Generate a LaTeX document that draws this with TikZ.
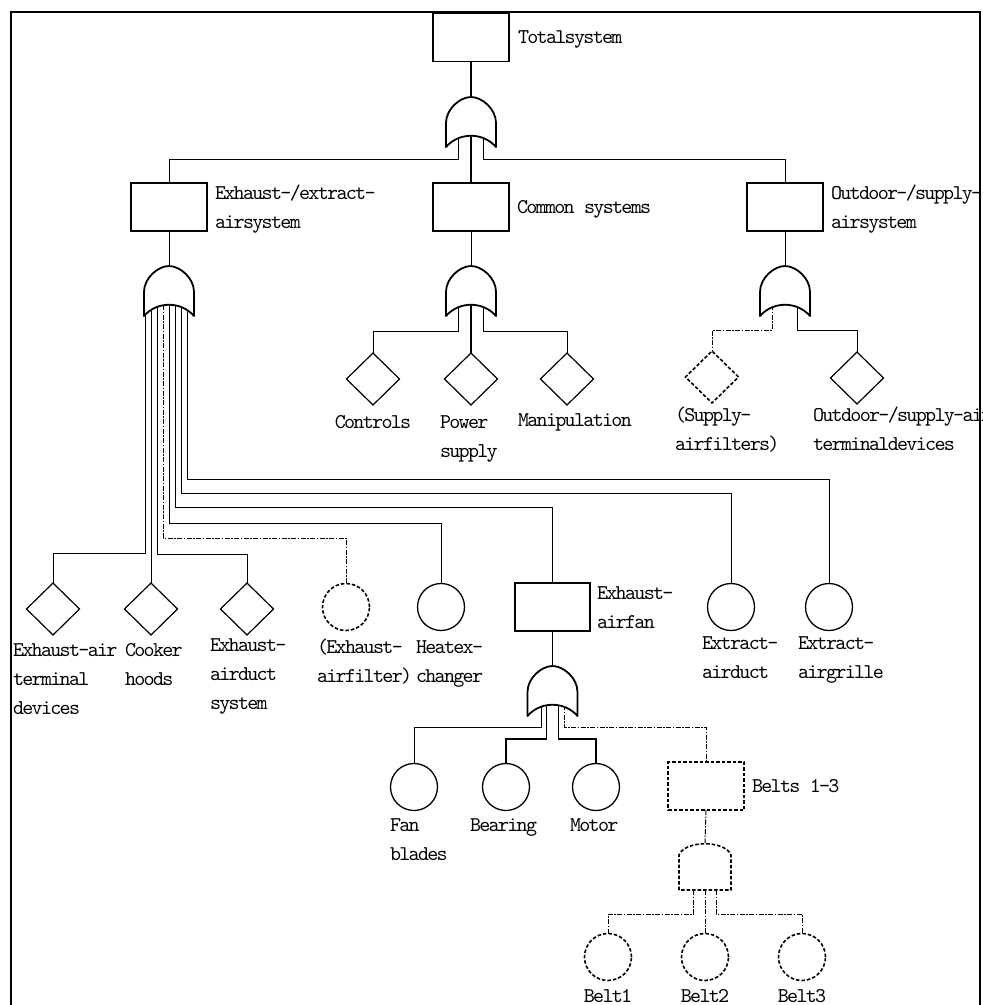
\documentclass[tikz,border=0pt]{standalone}
\usepackage{fontspec}
\newfontfamily\labfont[LetterSpace=-8]{lmmono10-regular.otf}
\usetikzlibrary{shapes.geometric,backgrounds}
% stacked label lines; the baseline is that of the first line
\newcommand\stk[1]{\vtop{\baselineskip=29pt\lineskiplimit=-100pt\halign{##\hfil\cr#1\crcr}}}

\begin{document}
\begin{tikzpicture}[x=1pt,y=-1pt,
  every node/.style={inner sep=0pt,outer sep=0pt},
  dashshape/.style={dash pattern=on 3.5pt off 2pt,line width=1.6pt},
  box/.style={draw,line width=1.3pt,minimum width=76pt,minimum height=48pt},
  dbox/.style={box,dashshape},
  dia/.style={draw,shape=diamond,line width=1.2pt,minimum width=53pt,minimum height=52pt},
  ddia/.style={dia,dashshape},
  basic/.style={draw,circle,line width=1.3pt,minimum size=47pt},
  dbasic/.style={basic,dashshape},
  conn/.style={line width=1pt},
  dconn/.style={line width=1pt,dash pattern=on 5pt off 1.5pt on 1.5pt off 1.5pt},
  gateline/.style={line width=1.8pt,fill=white,line join=round},
  lab/.style={font=\labfont\fontsize{21pt}{29pt}\selectfont,anchor=base west},
  orgate/.pic={
    \draw[gateline] (0,0) .. controls (-11,0) and (-25,12) .. (-25,26) -- (-25,50)
      .. controls (-12,35) and (12,35) .. (25,50) -- (25,26)
      .. controls (25,12) and (11,0) .. cycle;
    \coordinate (-apex) at (0,0);
    \coordinate (-base) at (0,39);
  },
  andgate/.pic={
    \draw[gateline,dashshape] (-26,47) -- (-26,12) .. controls (-20,-3) and (20,-3) .. (26,12)
      -- (26,47) -- cycle;
    \coordinate (-apex) at (0,0);
    \coordinate (-base) at (0,47);
  }
]
\useasboundingbox (0,0) rectangle (983,1005);

% frame
\draw[line width=2pt] (11,1008) -- (11,12) -- (980,12) -- (980,1008);

% top level
\node[box] (total) at (471,37.5) {};
\node[lab] (ltotal) at (518,43) {Totalsystem};
\pic (g0) at (471,97) {orgate};

% subsystems
\node[box] (exh) at (169,207) {};
\node[lab] (lexh) at (215,199.5) {\stk{Exhaust-/extract-\cr airsystem}};
\node[box] (com) at (471,207) {};
\node[lab] (lcom) at (517,213.5) {Common systems};
\node[box] (out) at (785,207) {};
\node[lab] (lout) at (831,199.5) {\stk{Outdoor-/supply-\cr airsystem}};

\pic (g1) at (169,266) {orgate};
\pic (g2) at (471,266) {orgate};
\pic (g3) at (785,266) {orgate};

% common systems
\node[dia] (ctrl) at (373,379) {};
\node[lab,anchor=base] (lctrl) at (373,428) {Controls};
\node[dia] (pow) at (471,379) {};
\node[lab] (lpow) at (440,428) {\stk{Power\cr supply}};
\node[dia] (man) at (567,379) {};
\node[lab] (lman) at (518,426) {Manipulation};

% outdoor/supply-air system
\node[ddia] (sfilt) at (712,377) {};
\node[lab] (lsfilt) at (675,421) {\stk{(Supply-\cr airfilters)}};
\node[dia] (otd) at (857,378) {};
\node[lab] (lotd) at (813,421) {\stk{Outdoor-/supply-air\cr terminaldevices}};

% exhaust/extract-air system
\node[dia] (eat) at (53,609) {};
\node[lab] (leat) at (13,656) {\stk{Exhaust-air\cr terminal\cr devices}};
\node[dia] (hood) at (151,609) {};
\node[lab] (lhood) at (125,656) {\stk{Cooker\cr hoods}};
\node[dia] (duct) at (247,609) {};
\node[lab] (lduct) at (210,651) {\stk{Exhaust-\cr airduct\cr system}};
\node[dbasic] (filt) at (346,607) {};
\node[lab] (lfilt) at (317,653) {\stk{(Exhaust-\cr airfilter)}};
\node[basic] (hex) at (441,607) {};
\node[lab] (lhex) at (416,653) {\stk{Heatex-\cr changer}};
\node[box,minimum width=75pt] (fanbox) at (552.5,607) {};
\node[lab] (lfanbox) at (597,599) {\stk{Exhaust-\cr airfan}};
\node[basic] (xduct) at (731,607) {};
\node[lab] (lxduct) at (702,649) {\stk{Extract-\cr airduct}};
\node[basic] (grille) at (829,607) {};
\node[lab] (lgrille) at (798,649) {\stk{Extract-\cr airgrille}};

% exhaust-air fan
\pic (g4) at (552.5,666) {orgate};
\node[basic] (fanbl) at (414,787) {};
\node[lab] (lfanbl) at (390,831) {\stk{Fan\cr blades}};
\node[basic] (bear) at (506,787) {};
\node[lab] (lbear) at (470,831) {Bearing};
\node[basic] (motor) at (596,787) {};
\node[lab] (lmotor) at (570,831) {Motor};
\node[dbox] (belts) at (706,786) {};
\node[lab] (lbelts) at (752,792) {Belts 1-3};

% belts
\pic (g5) at (705,843) {andgate};
\node[dbasic] (belt1) at (608,957) {};
\node[lab,anchor=base] (lbelt1) at (608,1002) {Belt1};
\node[dbasic] (belt2) at (705,957) {};
\node[lab,anchor=base] (lbelt2) at (705,1002) {Belt2};
\node[dbasic] (belt3) at (802,957) {};
\node[lab,anchor=base] (lbelt3) at (802,1002) {Belt3};

% bus levels
\coordinate (y159) at (0,159);
\coordinate (y331) at (0,331);
\coordinate (y330) at (0,330);
\coordinate (y479) at (0,479);
\coordinate (y493) at (0,493);
\coordinate (y507) at (0,507);
\coordinate (y523) at (0,523);
\coordinate (y538) at (0,538);
\coordinate (y553) at (0,553);
\coordinate (y554) at (0,554);
\coordinate (y727) at (0,727);
\coordinate (y739) at (0,739);
\coordinate (y914) at (0,914);

\begin{scope}[on background layer]
  % total system
  \draw[conn,line width=1.6pt] (total.south) -- (g0-apex);
  \draw[conn] ([xshift=-13pt]g0-base) |- (exh.north |- y159) -- (exh.north);
  \draw[conn,line width=1.6pt] (g0-base) -- (com.north);
  \draw[conn] ([xshift=12pt]g0-base) |- (out.north |- y159) -- (out.north);
  % exhaust/extract-air system
  \draw[conn] (exh.south) -- (g1-apex);
  \draw[conn] ([xshift=-24pt]g1-base) |- (eat.north |- y553) -- (eat.north);
  \draw[conn] ([xshift=-18pt]g1-base) -- (hood.north);
  \draw[conn] ([xshift=-12pt]g1-base) |- (duct.north |- y554) -- (duct.north);
  \draw[dconn] ([xshift=-6pt]g1-base) |- (filt.north |- y538) -- (filt.north);
  \draw[conn] (g1-base) |- (hex.north |- y523) -- (hex.north);
  \draw[conn] ([xshift=6pt]g1-base) |- (fanbox.north |- y507) -- (fanbox.north);
  \draw[conn] ([xshift=12pt]g1-base) |- (xduct.north |- y493) -- (xduct.north);
  \draw[conn] ([xshift=18pt]g1-base) |- (grille.north |- y479) -- (grille.north);
  % common systems
  \draw[conn] (com.south) -- (g2-apex);
  \draw[conn] ([xshift=-13pt]g2-base) |- (ctrl.north |- y331) -- (ctrl.north);
  \draw[conn,line width=1.6pt] (g2-base) -- (pow.north);
  \draw[conn] ([xshift=12pt]g2-base) |- (man.north |- y331) -- (man.north);
  % outdoor/supply-air system
  \draw[conn] (out.south) -- (g3-apex);
  \draw[dconn] ([xshift=-13pt]g3-base) |- (sfilt.north |- y330) -- (sfilt.north);
  \draw[conn] ([xshift=12pt]g3-base) |- (otd.north |- y330) -- (otd.north);
  % exhaust-air fan
  \draw[conn,line width=1.6pt] (fanbox.south) -- (g4-apex);
  \draw[conn] ([xshift=-11pt]g4-base) |- (fanbl.north |- y727) -- (fanbl.north);
  \draw[conn,line width=1.5pt] ([xshift=-6pt]g4-base) |- (bear.north |- y739) -- (bear.north);
  \draw[conn,line width=1.5pt] ([xshift=6pt]g4-base) |- (motor.north |- y739) -- (motor.north);
  \draw[dconn] ([xshift=12pt]g4-base) |- (belts.north |- y727) -- (belts.north);
  % belts
  \draw[dconn] (belts.south) -- (g5-apex);
  \draw[dconn] ([xshift=-12pt]g5-base) |- (belt1.north |- y914) -- (belt1.north);
  \draw[dconn] (g5-base) -- (belt2.north);
  \draw[dconn] ([xshift=11pt]g5-base) |- (belt3.north |- y914) -- (belt3.north);
\end{scope}
\end{tikzpicture}
\end{document}
